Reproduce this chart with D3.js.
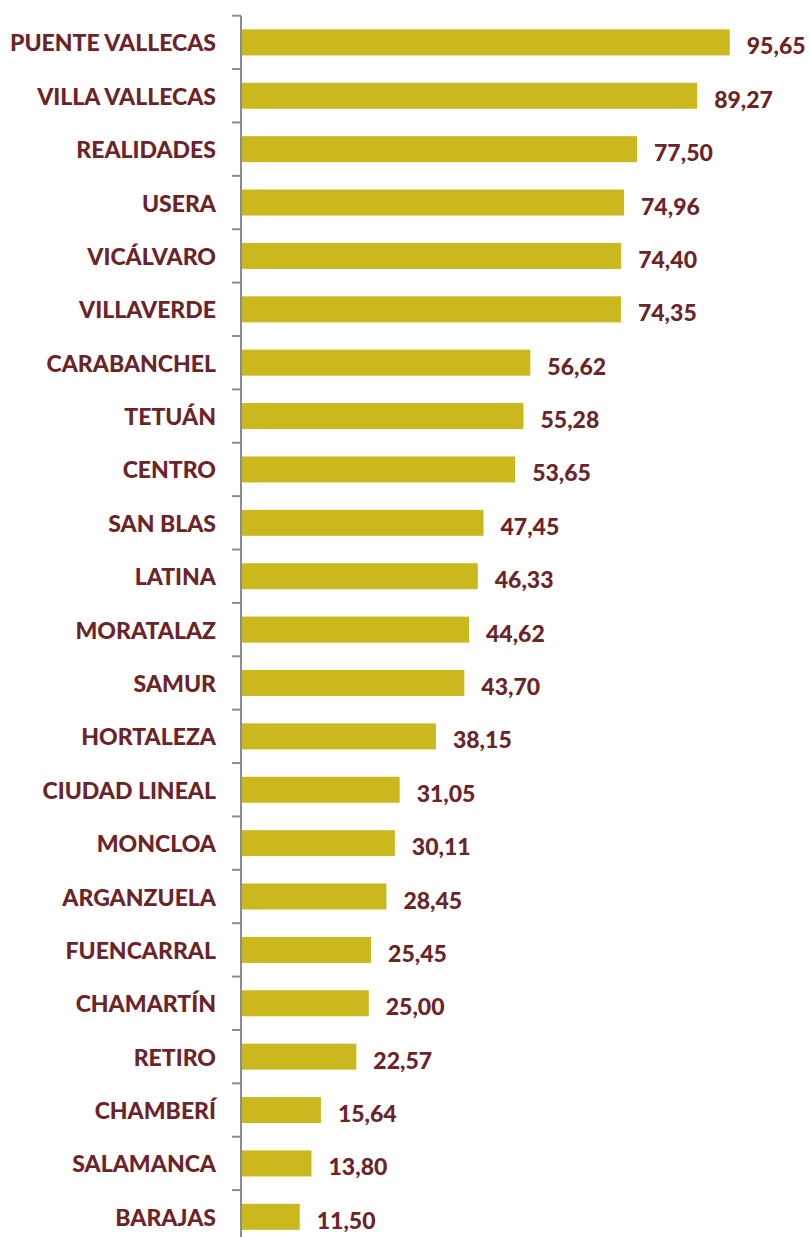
<!DOCTYPE html>
<html><head><meta charset="utf-8">
<script src="https://cdn.jsdelivr.net/npm/d3@7"></script>
<style>html,body{margin:0;padding:0;background:#fff;}</style>
</head><body>
<svg id="chart" width="810" height="1237"></svg>
<script>
const categories = ["PUENTE VALLECAS","VILLA VALLECAS","REALIDADES","USERA","VICÁLVARO","VILLAVERDE","CARABANCHEL","TETUÁN","CENTRO","SAN BLAS","LATINA","MORATALAZ","SAMUR","HORTALEZA","CIUDAD LINEAL","MONCLOA","ARGANZUELA","FUENCARRAL","CHAMARTÍN","RETIRO","CHAMBERÍ","SALAMANCA","BARAJAS"];
const values = [95.65,89.27,77.50,74.96,74.40,74.35,56.62,55.28,53.65,47.45,46.33,44.62,43.70,38.15,31.05,30.11,28.45,25.45,25.00,22.57,15.64,13.80,11.50];

const svg = d3.select("#chart");
const axisX = 241;
const y = d3.scaleBand().domain(categories).range([15.7, 1243.5]).paddingInner(0.513).paddingOuter(0.2565);
const x = d3.scaleLinear().domain([0, 100]).range([axisX, axisX + 511]);
const data = categories.map((c,i)=>({c, v: values[i]}));
const textColor = "#6B2428";
const font = "Lato, 'Open Sans', sans-serif";

svg.selectAll("rect.bar").data(data).enter().append("rect")
  .attr("class","bar")
  .attr("x", x(0)).attr("y", d=>y(d.c))
  .attr("width", d=>x(d.v)-x(0)).attr("height", y.bandwidth())
  .attr("fill","#CBB81F");

// axis with ticks at band boundaries
const bounds = categories.map(c=>y(c)-y.step()*y.paddingInner()/2);
bounds.push(y(categories[categories.length-1]) + y.bandwidth() + y.step()*y.paddingInner()/2);
const g = svg.append("g");
g.append("line").attr("x1",axisX).attr("x2",axisX).attr("y1",bounds[0]).attr("y2",bounds[bounds.length-1])
  .attr("stroke","#8c8c8c").attr("stroke-width",2);
g.selectAll("line.tick").data(bounds).enter().append("line").attr("class","tick")
  .attr("x1",axisX-9).attr("x2",axisX).attr("y1",d=>d).attr("y2",d=>d)
  .attr("stroke","#8c8c8c").attr("stroke-width",2);

svg.selectAll("text.cat").data(data).enter().append("text")
  .attr("class","cat")
  .attr("x", 216).attr("y", d=>y(d.c)+y.bandwidth()/2)
  .attr("text-anchor","end").attr("dominant-baseline","central")
  .attr("font-family",font).attr("font-weight","900").attr("font-size","23px")
  .attr("fill",textColor).text(d=>d.c);

const fmt = v => v.toFixed(2).replace(".", ",");
svg.selectAll("text.val").data(data).enter().append("text")
  .attr("class","val")
  .attr("x", d=>x(d.v)+17).attr("y", d=>y(d.c)+y.bandwidth()/2+3)
  .attr("dominant-baseline","central")
  .attr("font-family",font).attr("font-weight","900").attr("font-size","23px")
  .attr("fill",textColor).text(d=>fmt(d.v));
</script>
</body></html>
